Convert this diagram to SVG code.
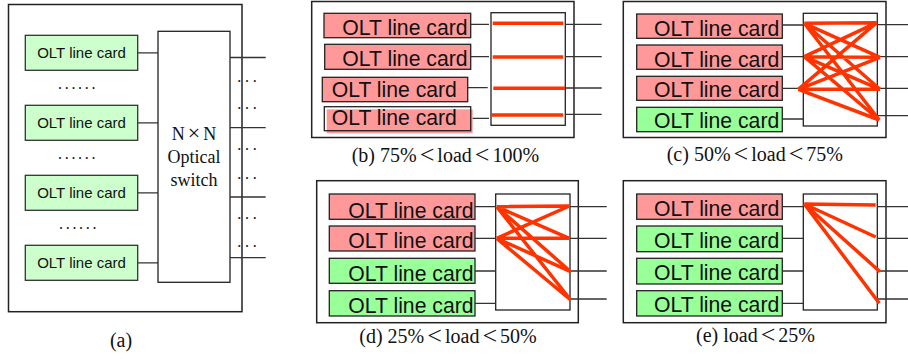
<svg xmlns="http://www.w3.org/2000/svg" width="908" height="360" viewBox="0 0 908 360">
  <style>
    .frame { fill: none; stroke: #222; stroke-width: 1.5; }
    .card-a { fill: #ccffcc; stroke: #333; stroke-width: 1.3; }
    .busy { fill: #ff9999; stroke: #222; stroke-width: 1.3; }
    .idle { fill: #99ff99; stroke: #222; stroke-width: 1.3; }
    .sw { fill: #fff; stroke: #222; stroke-width: 1.3; }
    .wire { stroke: #333; stroke-width: 1.3; fill: none; }
    .route { stroke: #ff3300; stroke-width: 3.5; fill: none; }
    .lbl-a { font-family: "Liberation Sans", Arial, sans-serif; font-size: 15px; text-anchor: middle; fill: #111; }
    .lbl { font-family: "Liberation Sans", Arial, sans-serif; font-size: 21.2px; fill: #111; }
    .cap { font-family: "Liberation Serif", "Times New Roman", serif; font-size: 20px; fill: #111; }
    .sw-txt { font-family: "Liberation Serif", "Times New Roman", serif; font-size: 18px; text-anchor: middle; fill: #111; }
    .lt { font-size: 26px; }
    .dots { font-family: "Liberation Serif", serif; font-size: 16px; fill: #111; }
  </style>

  <!-- (a) general architecture -->
  <g id="panel-a">
    <rect class="frame" x="8.5" y="4.5" width="233.5" height="307.2"/>
    <g id="a-card1"><rect class="card-a" x="25.3" y="35.3" width="112.4" height="35"/><text class="lbl-a" x="81.5" y="58.3">OLT line card</text></g>
    <g id="a-card2"><rect class="card-a" x="25.3" y="105.3" width="112.4" height="35"/><text class="lbl-a" x="81.5" y="128.3">OLT line card</text></g>
    <g id="a-card3"><rect class="card-a" x="25.3" y="175.3" width="112.4" height="35"/><text class="lbl-a" x="81.5" y="198.3">OLT line card</text></g>
    <g id="a-card4"><rect class="card-a" x="25.3" y="245.3" width="112.4" height="35"/><text class="lbl-a" x="81.5" y="268.3">OLT line card</text></g>
    <g id="a-switch">
      <rect class="sw" x="158" y="31.3" width="72" height="251"/>
      <text class="sw-txt" x="194" y="140">N<tspan dx="3" font-size="22px">×</tspan><tspan dx="3">N</tspan></text>
      <text class="sw-txt" x="194" y="163">Optical</text>
      <text class="sw-txt" x="194" y="185.5">switch</text>
    </g>
    <g id="a-dots">
      <text class="dots" x="58" y="88.7" letter-spacing="2.7">......</text>
      <text class="dots" x="58" y="159.3" letter-spacing="2.7">......</text>
      <text class="dots" x="59" y="229.3" letter-spacing="2.7">......</text>
      <text class="dots" x="237.3" y="82" letter-spacing="3.7">...</text>
      <text class="dots" x="237.3" y="108.7" letter-spacing="3.7">...</text>
      <text class="dots" x="237.3" y="150" letter-spacing="3.7">...</text>
      <text class="dots" x="237.3" y="178.7" letter-spacing="3.7">...</text>
      <text class="dots" x="237.3" y="219.3" letter-spacing="3.7">...</text>
      <text class="dots" x="237.3" y="246.7" letter-spacing="3.7">...</text>
    </g>
    <text class="cap" x="121" y="347" text-anchor="middle">(a)</text>
  </g>

  <!-- (b) 75% < load < 100% -->
  <g id="panel-b">
    <rect class="frame" x="311.7" y="1.5" width="262.3" height="136"/>
    <g id="b-card1"><rect class="busy" x="324" y="13.3" width="146.7" height="24.4"/><text class="lbl" x="342.3" y="35">OLT line card</text></g>
    <g id="b-card2"><rect class="busy" x="324.7" y="44.3" width="146" height="25"/><text class="lbl" x="342.3" y="66">OLT line card</text></g>
    <g id="b-card3"><rect class="busy" x="322.3" y="77.3" width="145.4" height="24.4"/><text class="lbl" x="331.7" y="96.7">OLT line card</text></g>
    <g id="b-card4">
      <rect x="326.7" y="109.3" width="146" height="24" fill="#ff9999"/>
      <rect x="324.3" y="106.7" width="146.4" height="24" fill="none" stroke="#222" stroke-width="1.3"/>
      <text class="lbl" x="331.7" y="125.3">OLT line card</text>
    </g>
    <g id="b-switch"><rect class="sw" x="491" y="12.7" width="74.3" height="112.6"/></g>
    <text class="cap" x="351.7" y="162">(b) 75%<tspan class="lt" dx="3" dy="1">&lt;</tspan><tspan dx="3" dy="-1">load</tspan><tspan class="lt" dx="3" dy="1">&lt;</tspan><tspan dx="3" dy="-1">100%</tspan></text>
  </g>

  <!-- (c) 50% < load < 75% -->
  <g id="panel-c">
    <rect class="frame" x="623.3" y="1.5" width="262.7" height="136"/>
    <g id="c-card1"><rect class="busy" x="636.7" y="14" width="145.6" height="24.3"/><text class="lbl" x="654" y="35.7">OLT line card</text></g>
    <g id="c-card2"><rect class="busy" x="636.7" y="45" width="145.6" height="24.3"/><text class="lbl" x="654" y="66.7">OLT line card</text></g>
    <g id="c-card3"><rect class="busy" x="636.7" y="76.3" width="145.6" height="24"/><text class="lbl" x="654" y="97.3">OLT line card</text></g>
    <g id="c-card4"><rect class="idle" x="636.7" y="107.3" width="145.6" height="24.4"/><text class="lbl" x="654" y="128.3">OLT line card</text></g>
    <g id="c-switch"><rect class="sw" x="803.3" y="13.3" width="74" height="112.7"/></g>
    <text class="cap" x="666.7" y="161">(c) 50%<tspan class="lt" dx="3" dy="1">&lt;</tspan><tspan dx="3" dy="-1">load</tspan><tspan class="lt" dx="3" dy="1">&lt;</tspan><tspan dx="3" dy="-1">75%</tspan></text>
  </g>

  <!-- (d) 25% < load < 50% -->
  <g id="panel-d">
    <rect class="frame" x="316.7" y="180.7" width="261.6" height="142"/>
    <g id="d-card1"><rect class="busy" x="329.3" y="194" width="145.7" height="25.3"/><text class="lbl" x="348.3" y="217.7">OLT line card</text></g>
    <g id="d-card2"><rect class="busy" x="329.3" y="226" width="145.7" height="25"/><text class="lbl" x="348.3" y="248.3">OLT line card</text></g>
    <g id="d-card3"><rect class="idle" x="329.3" y="258.3" width="145.7" height="25"/><text class="lbl" x="348.3" y="281">OLT line card</text></g>
    <g id="d-card4"><rect class="idle" x="329.3" y="290.7" width="145.7" height="25.3"/><text class="lbl" x="348.3" y="312.7">OLT line card</text></g>
    <g id="d-switch"><rect class="sw" x="495.7" y="194" width="74.3" height="116"/></g>
    <text class="cap" x="359.3" y="342.5">(d) 25%<tspan class="lt" dx="3" dy="1">&lt;</tspan><tspan dx="3" dy="-1">load</tspan><tspan class="lt" dx="3" dy="1">&lt;</tspan><tspan dx="3" dy="-1">50%</tspan></text>
  </g>

  <!-- (e) load < 25% -->
  <g id="panel-e">
    <rect class="frame" x="623.3" y="180.7" width="262.7" height="142"/>
    <g id="e-card1"><rect class="busy" x="636.7" y="194" width="145.6" height="25.3"/><text class="lbl" x="654" y="215.7">OLT line card</text></g>
    <g id="e-card2"><rect class="idle" x="636.7" y="226" width="145.6" height="25.7"/><text class="lbl" x="654" y="248.3">OLT line card</text></g>
    <g id="e-card3"><rect class="idle" x="636.7" y="258.3" width="145.6" height="25.7"/><text class="lbl" x="654" y="280">OLT line card</text></g>
    <g id="e-card4"><rect class="idle" x="636.7" y="290.7" width="145.6" height="25.3"/><text class="lbl" x="654" y="311.7">OLT line card</text></g>
    <g id="e-switch"><rect class="sw" x="803.3" y="194" width="74" height="116"/></g>
    <text class="cap" x="696" y="342">(e) load<tspan class="lt" dx="3" dy="1">&lt;</tspan><tspan dx="3" dy="-1">25%</tspan></text>
  </g>

  <!-- connectors: card-to-switch and switch output fibres -->
  <g id="connectors">
    <path class="wire" d="M137.7 52.8H158M137.7 122.8H158M137.7 192.8H158M137.7 262.8H158"/>
    <path class="wire" d="M230 57.5H265.7M230 127.7H265.7M230 197H265.7M230 257.7H265.7"/>

    <path class="wire" d="M470.7 24.3H489M470.7 56.7H489M468 87.7H487.7M472.7 118.3H489"/>
    <path class="wire" d="M565.3 24.3H601.7M565.3 56.7H601.7M565.3 88H601.7M565.3 114.3H601.7"/>

    <path class="wire" d="M782.3 25H803.3M782.3 56.7H803.3M782.3 88.3H803.3M782.3 119H803.3"/>
    <path class="wire" d="M877.3 24.7H908M877.3 56.7H908M877.3 88.3H908M877.3 115.7H908"/>

    <path class="wire" d="M475 206.7H495.7M475 238.3H495.7M475 271H495.7M475 303.3H495.7"/>
    <path class="wire" d="M570 206.7H606.7M570 238.3H606.7M570 271H606.7M570 299H606.7"/>

    <path class="wire" d="M782.3 206.7H803.3M782.3 238.3H803.3M782.3 271H803.3M782.3 303.3H803.3"/>
    <path class="wire" d="M877.3 206.7H908M877.3 238.3H908M877.3 271H908M877.3 299H908"/>

    <!-- active light paths through the switch -->
    <path class="route" d="M492.7 23.3H563.3M492.7 57H563.3M493.3 88.3H565M491 115H563.3"/>
    <path class="route" d="M804.3 23.3L876.7 22.7M804.3 23.3L880 57.3M804.3 23.3L880 89.3M804.3 23.3L879.3 120
                            M804.3 56.7L876.7 22.7M804.3 56.7L880 57.3M804.3 56.7L880 89.3M804.3 56.7L879.3 120
                            M798.3 89.3L876.7 22.7M798.3 89.3L880 57.3M798.3 89.3L880 89.3M798.3 89.3L879.3 120"/>
    <path class="route" d="M496.7 206.7L569.3 206M496.7 206.7L569.3 238.3M496.7 206.7L570.7 271.7M496.7 206.7L570.7 300
                            M496.7 238.3L569.3 206M496.7 238.3L569.3 238.3M496.7 238.3L570.7 271.7M496.7 238.3L570.7 300"/>
    <path class="route" d="M804.3 204L875.7 205M804.3 204L875.7 237M804.3 204L880 271.7M804.3 204L879.3 303.3"/>
  </g>
</svg>
